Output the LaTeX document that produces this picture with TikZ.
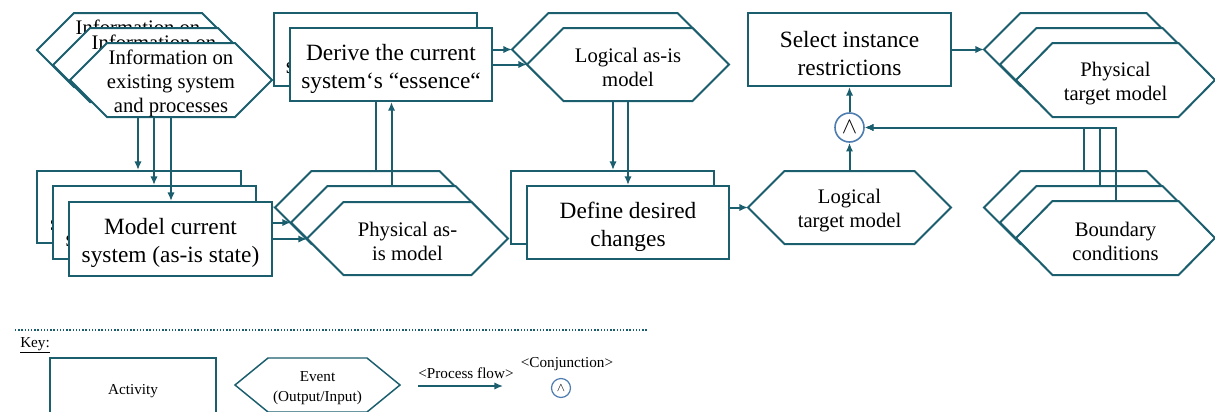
\documentclass[tikz,border=0pt]{standalone}
\usepackage{fontspec}
\setmainfont{Liberation Serif}
\usetikzlibrary{arrows.meta}
\definecolor{teal1}{HTML}{1B5E6E}
\definecolor{cblue}{HTML}{4F7DB0}
\pgfdeclarelayer{rear}\pgfdeclarelayer{mid}\pgfdeclarelayer{front}
\pgfsetlayers{rear,mid,main,front}
\tikzset{
  hexline/.style={draw=teal1, fill=white, line width=1.5pt, line join=miter},
  hexfit/.style={inner sep=0pt, outer sep=0pt},
  hextext/.style={inner sep=0pt, align=center, font=\fontsize{15.5}{18}\selectfont, yshift=-2.5pt},
  actbox/.style={draw=teal1, fill=white, line width=1.5pt, inner sep=0pt},
  acttext/.style={inner sep=0pt, align=center, font=\fontsize{17.5}{21}\selectfont, yshift=-3pt},
  flow/.style={draw=teal1, line width=1.5pt, -{Latex[length=6.5pt,width=5.5pt]}},
  conjc/.style={circle, draw=cblue, fill=white, line width=1.2pt, inner sep=0pt, minimum size=21.75pt, font=\fontsize{16}{16}\selectfont},
  keyfont/.style={font=\fontsize{11.4}{15}\selectfont},
  keyline/.style={line width=1.1pt},
  keydot/.style={draw=teal1, line width=0.8pt, dash pattern=on 1.1pt off 1.3pt},
  keyconj/.style={circle, draw=cblue, fill=white, line width=0.9pt, inner sep=0pt, minimum size=14.25pt, font=\fontsize{9.5}{9.5}\selectfont},
}
% hexagon: [style] name x1 y1 x2 y2 inset text   (coordinates in px, y downward)
\newcommand\hexnode[8][]{%
  \pgfmathsetmacro\hxm{(#4+#6)/2}\pgfmathsetmacro\hxc{(#3+#5)/2}%
  \pgfmathsetmacro\hxw{(#5-#3)*0.75}\pgfmathsetmacro\hxh{(#6-#4)*0.75}%
  \path[hexline,#1] (#3,\hxm) -- ({#3+#7},#4) -- ({#5-#7},#4) -- (#5,\hxm) -- ({#5-#7},#6) -- ({#3+#7},#6) -- cycle;
  \node[hexfit, minimum width=\hxw pt, minimum height=\hxh pt] (#2) at (\hxc,\hxm) {};%
  \node[hextext,#1] (#2-t) at (\hxc,\hxm) {#8};%
}
% activity box: [style] name x1 y1 x2 y2 text
\newcommand\actnode[7][]{%
  \pgfmathsetmacro\hxm{(#4+#6)/2}\pgfmathsetmacro\hxc{(#3+#5)/2}%
  \pgfmathsetmacro\hxw{(#5-#3)*0.75}\pgfmathsetmacro\hxh{(#6-#4)*0.75}%
  \node[actbox,#1, minimum width=\hxw pt, minimum height=\hxh pt] (#2) at (\hxc,\hxm) {};%
  \node[acttext,#1] (#2-t) at (\hxc,\hxm) {#7};%
}
\begin{document}
\begin{tikzpicture}[x=0.75pt, y=-0.75pt]
\useasboundingbox (0,0) rectangle (1215,411);
\clip (0,0) rectangle (1215,411);

% ---------- rear copies ----------
\begin{pgfonlayer}{rear}
\hexnode{info1}{37}{13}{239}{87}{37}{Information on\\existing system\\and processes}
\actnode{mod1}{37}{171}{241}{243}{Model current\\system (as-is state)}
\actnode{der1}{274}{13}{477}{86}{Derive the current\\system‘s “essence“}
\hexnode{phy1}{275}{171}{476}{244}{36.5}{Physical as-\\is model}
\hexnode{log1}{512}{13}{714}{86}{36.5}{Logical as-is\\model}
\actnode{def1}{511}{171}{714}{244}{Define desired\\changes}
\hexnode{pt1}{984}{13}{1183}{86}{36.5}{Physical\\target model}
\hexnode{bc1}{984}{171}{1183}{244}{36.5}{Boundary\\conditions}
\end{pgfonlayer}

% ---------- middle copies ----------
\begin{pgfonlayer}{mid}
\hexnode{info2}{53}{28}{255}{102}{37}{Information on\\existing system\\and processes}
\actnode{mod2}{53}{186}{256}{259}{Model current\\system (as-is state)}
\hexnode{phy2}{291}{186}{492}{259}{36.5}{Physical as-\\is model}
\hexnode{pt2}{1000}{28}{1199}{101}{36.5}{Physical\\target model}
\hexnode{bc2}{1000}{186}{1199}{259}{36.5}{Boundary\\conditions}
\end{pgfonlayer}

% ---------- front copies and single shapes ----------
\begin{pgfonlayer}{front}
\hexnode{info3}{70}{43}{272}{117}{37}{Information on\\existing system\\and processes}
\actnode{mod3}{69}{202}{272}{276}{Model current\\system (as-is state)}
\actnode{der2}{290}{28}{492}{101}{Derive the current\\system‘s “essence“}
\hexnode{phy3}{307}{202}{508}{275}{36.5}{Physical as-\\is model}
\hexnode{log2}{527}{28}{729}{101}{36.5}{Logical as-is\\model}
\actnode{def2}{527}{186}{729}{259}{Define desired\\changes}
\actnode{sel}{748}{13}{951}{86}{Select instance\\restrictions}
\hexnode{lt}{748}{171}{951}{244}{36.5}{Logical\\target model}
\node[conjc] (conj) at (849.5,127.5) {$\wedge$};
\hexnode{pt3}{1016}{43}{1215}{117}{36.5}{Physical\\target model}
\hexnode{bc3}{1016}{201}{1215}{275}{36.5}{Boundary\\conditions}
\end{pgfonlayer}

% ---------- connectors ----------
\draw[flow] (info1.south) -- (info1.south |- mod1.north);
\draw[flow] (info2.south) -- (info2.south |- mod2.north);
\draw[flow] (info3.south) -- (info3.south |- mod3.north);
\draw[flow] (mod1.east) -- (mod1.east -| phy1.west);
\draw[flow] (mod2.east) -- (mod2.east -| phy2.west);
\draw[flow] (mod3.east) -- (mod3.east -| phy3.west);
\draw[flow] (phy1.north) -- (phy1.north |- der1.south);
\draw[flow] (phy2.north) -- (phy2.north |- der2.south);
\draw[flow] (der1.east) -- (der1.east -| log1.west);
\draw[flow] (der2.east) -- (der2.east -| log2.west);
\draw[flow] (log1.south) -- (log1.south |- def1.north);
\draw[flow] (log2.south) -- (log2.south |- def2.north);
\draw[flow] (def1.east) -- (def1.east -| lt.west);
\draw[flow] (lt.north) -- (conj.south);
\draw[flow] (conj.north) -- (sel.south);
\draw[flow] (sel.east) -- (sel.east -| pt1.west);
\draw[flow] (bc1.north) |- (conj.east);
\draw[flow] (bc2.north) |- (conj.east);
\draw[flow] (bc3.north) |- (conj.east);

% ---------- key ----------
\coordinate (dl) at (15,330);
\coordinate (dr) at (648,330);
\draw[keydot] (dl) -- (dr);
\node[keyfont, anchor=west, inner sep=0pt] (keylab) at (20,345) {\underline{Key:}};
\actnode[keyfont,keyline]{kact}{50}{358}{216}{416}{Activity}
\hexnode[keyfont,keyline]{kevt}{235}{358}{400}{412}{33}{Event\\(Output/Input)}
\node[keyfont] (kpf) at (466,373) {<Process flow>};
\coordinate (kpa) at (418,386);
\coordinate (kpb) at (503,386);
\draw[flow, line width=1.1pt] (kpa) -- (kpb);
\node[keyfont] (kcj) at (567,364) {<Conjunction>};
\node[keyconj] (kcc) at (561,388) {$\wedge$};
\end{tikzpicture}
\end{document}
